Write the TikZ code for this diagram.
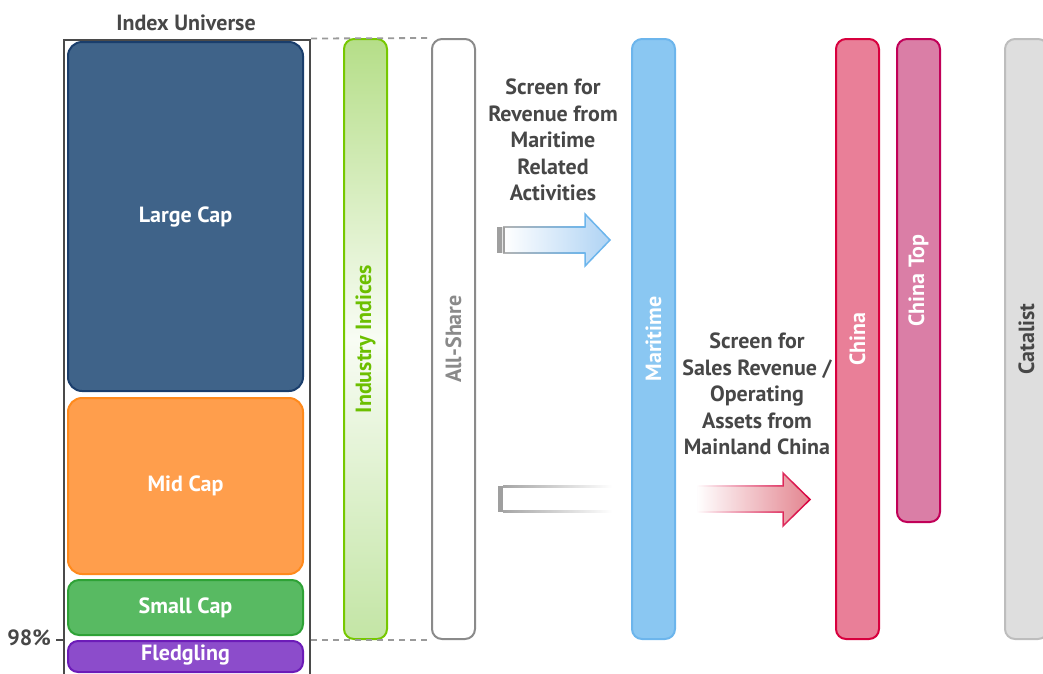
\documentclass[tikz,border=0pt]{standalone}
\usepackage{fontspec}
\setmainfont{PT Sans}
\usetikzlibrary{fadings}

\definecolor{txtgray}{HTML}{474747}
\definecolor{framegray}{HTML}{4A4A4A}
\definecolor{largefill}{HTML}{3F6389}
\definecolor{largeedge}{HTML}{1A3E6C}
\definecolor{midfill}{HTML}{FF9E4C}
\definecolor{midedge}{HTML}{FF8A1C}
\definecolor{smallfill}{HTML}{58BA62}
\definecolor{smalledge}{HTML}{2EA236}
\definecolor{fledgefill}{HTML}{8C4CCB}
\definecolor{fledgeedge}{HTML}{6C1BB8}
\definecolor{indedge}{HTML}{76C800}
\definecolor{indtext}{HTML}{6CBF00}
\definecolor{indtop}{HTML}{B5DE88}
\definecolor{indmid}{HTML}{F8FCF4}
\definecolor{indbottom}{HTML}{C3E5A5}
\definecolor{allgray}{HTML}{8A8A8A}
\definecolor{dashgray}{HTML}{9A9A9A}
\definecolor{seafill}{HTML}{8AC7F2}
\definecolor{seaedge}{HTML}{6CB5EC}
\definecolor{seaarrow}{HTML}{AFD3F4}
\definecolor{chinafill}{HTML}{E97F98}
\definecolor{chinaedge}{HTML}{D8003E}
\definecolor{topfill}{HTML}{DA7EA6}
\definecolor{topedge}{HTML}{C10058}
\definecolor{chinaarrow}{HTML}{E3848F}
\definecolor{catfill}{HTML}{DEDEDE}
\definecolor{catedge}{HTML}{BDBDBD}

\pgfdeclareverticalshading{indshade}{100bp}{color(0bp)=(indbottom); color(25bp)=(indbottom); color(50bp)=(indmid); color(75bp)=(indtop); color(100bp)=(indtop)}
\tikzfading[name=fadeinright, left color=transparent!100, middle color=transparent!0, right color=transparent!0]

\begin{document}
\begin{tikzpicture}[x=1pt,y=-1pt,
    every node/.style={font=\fontsize{22}{26.5}\selectfont\bfseries, text=txtgray, inner sep=0pt},
    capbox/.style={draw, line width=2pt, rounded corners=14pt, minimum width=235pt, text=white},
    bar/.style={draw, line width=2pt, rounded corners=10pt, minimum width=43pt, minimum height=600pt},
    gap/.style={draw=dashgray, line width=1.8pt, dash pattern=on 6pt off 5pt}]
  \path[use as bounding box, clip] (0,0) rectangle (1043,673);

  %% index universe
  \node[draw=framegray, line width=2.5pt, anchor=north west, minimum width=246pt, minimum height=660pt] (universe) at (62.5,38.5) {};
  \node (universelabel) at (186,23) {Index Universe};

  \node[capbox, fill=largefill, draw=largeedge, minimum height=349pt] (large) at (185.5,216.5) {Large Cap};
  \node[capbox, fill=midfill, draw=midedge, minimum height=176pt] (mid) at (185.5,486) {Mid Cap};
  \node[capbox, fill=smallfill, draw=smalledge, minimum height=55pt, rounded corners=11pt] (small) at (185.5,607.5) {Small Cap};
  \node[capbox, fill=fledgefill, draw=fledgeedge, minimum height=31pt, rounded corners=10pt] (fledge) at (185.5,656.5) {};
  \node[text=white] at (185.5,655) {Fledgling};

  %% 98% mark
  \coordinate (cut) at (universe.west |- 0,640);
  \node[anchor=east] (pct) at (51,638) {98\%};
  \draw[framegray, line width=2pt] (cut) -- ++(-7,0);

  %% bars
  \node[bar, draw=indedge, shading=indshade] (industry) at (365.5,339) {};
  \node[rotate=90, text=indtext] at (industry) {Industry Indices};

  \node[bar, draw=allgray, fill=white] (allshare) at (453.5,339) {};
  \node[rotate=90, text=allgray] at (allshare) {All-Share};

  \node[bar, draw=seaedge, fill=seafill] (maritime) at (653.5,339) {};
  \node[rotate=90, text=white] at (maritime) {Maritime};

  \node[bar, draw=chinaedge, fill=chinafill] (china) at (857.5,339) {};
  \node[rotate=90, text=white] at (china) {China};

  \node[bar, draw=topedge, fill=topfill, minimum height=483pt] (chinatop) at (918.5,280.5) {};
  \node[rotate=90, text=white] at (chinatop) {China Top};

  \node[bar, draw=catedge, fill=catfill] (catalist) at (1026.5,339) {};
  \node[rotate=90] at (catalist) {Catalist};

  %% dashed guides
  \draw[gap] (universe.north east) -- (allshare.north west);
  \draw[gap] (cut -| universe.east) -- (allshare.south west);

  %% screens
  \node[align=center] (screensea) at (553,140) {Screen for\\Revenue from\\Maritime\\Related\\Activities};
  \node[align=center] (screenchina) at (757,394) {Screen for\\Sales Revenue /\\Operating\\Assets from\\Mainland China};

  %% arrow into maritime
  \shade[left color=white, right color=seaarrow] (503,227) -- (585,227) -- (585,214) -- (610,240) -- (585,266) -- (585,253) -- (503,253) -- cycle;
  \draw[seaedge, line width=1.5pt] (585,227) -- (585,214) -- (610,240) -- (585,266) -- (585,253);
  \shade[left color=gray!60, right color=seaedge] (503,226.2) rectangle (585.7,227.8);
  \shade[left color=gray!60, right color=seaedge] (503,252.2) rectangle (585.7,253.8);
  \fill[gray!75] (497,227) rectangle (505,253);
  \draw[white!80!gray, line width=0.8pt] (502,227) -- (502,253);

  %% arrow past maritime
  \shade[left color=gray!70, right color=white] (503,485.2) rectangle (612,487.2);
  \shade[left color=gray!70, right color=white] (503,510.8) rectangle (612,512.8);
  \fill[gray!75] (498,486) rectangle (503,512);

  %% arrow into china
  \draw[chinaedge, fill=chinaarrow, line width=1.5pt, path fading=fadeinright] (697,486) -- (783,486) -- (783,473) -- (810,499.5) -- (783,526) -- (783,512) -- (697,512) -- cycle;
\end{tikzpicture}
\end{document}
